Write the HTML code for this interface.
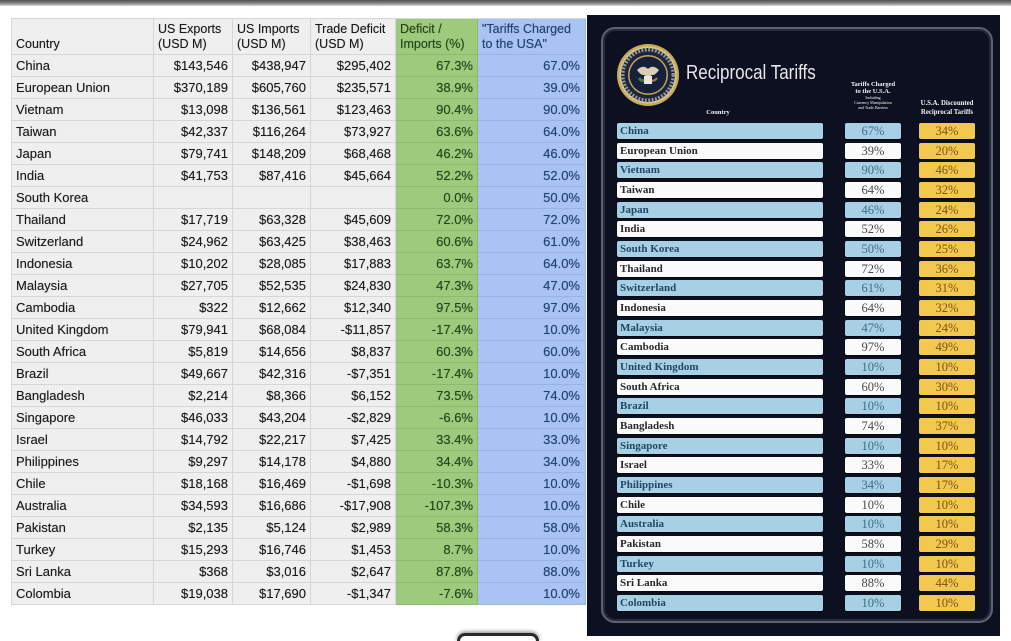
<!DOCTYPE html>
<html style="width:1011px;height:641px;overflow:hidden"><head><meta charset="utf-8"><style>
*{margin:0;padding:0;box-sizing:border-box}
body{width:1011px;height:641px;background:#fff;position:relative;overflow:hidden;font-family:"Liberation Sans",Arial,sans-serif}
.topbar{position:absolute;left:0;top:0;width:1011px;height:6px;background:linear-gradient(#4f4f4f,#8c8c8c 60%,#dcdcdc)}
.grid{position:absolute;left:11px;top:18px;display:grid;grid-template-columns:142px 79px 78px 85px 82px 108px;grid-template-rows:36px repeat(25,22px);border-top:1px solid #d8d8d8;border-left:1px solid #d8d8d8}
.grid div{background:#efefef;border-right:1px solid #d6d6d6;border-bottom:1px solid #d6d6d6;font-size:13px;color:#1a1a1a;display:flex;align-items:center;padding:0 4px;white-space:nowrap;overflow:hidden;text-shadow:0 0 0.6px rgba(0,0,0,.5)}
.grid div.r{justify-content:flex-end}
.grid div.g{background:#9ccb7e;color:#244814;justify-content:flex-end;border-color:#8cbb70}
.grid div.b{background:#a9c4f2;color:#22427a;justify-content:flex-end;border-color:#98b4e2;padding-right:5px}
.grid div.h{align-items:flex-end;font-size:12.5px;line-height:15px;padding-bottom:2px;justify-content:flex-start;white-space:normal}
.panel{position:absolute;left:587px;top:15px;width:413px;height:621px;background:#0d1020}
.inner{position:absolute;left:601px;top:27px;width:392px;height:596px;border:2px solid #5c6272;border-radius:14px;box-shadow:inset 0 0 0 2px #262b3a}
.title{position:absolute;left:686px;top:62px;font-size:20px;color:#e6e6ea;font-family:"Liberation Sans",sans-serif;transform:scaleX(0.85);transform-origin:left top;white-space:nowrap}
.hs{position:absolute;color:#f2f2f2;font-family:"Liberation Serif",serif;font-weight:bold;text-align:center;white-space:nowrap}
.row{position:absolute;height:16px;font-family:"Liberation Serif",serif;font-weight:bold;white-space:nowrap;border-radius:2px;box-shadow:0 1px 1px rgba(0,0,0,.6)}
.c{left:617px;width:206px;font-size:11px;line-height:16px;padding-left:3px}
.t{left:845px;width:56px;font-size:12.5px;line-height:16px;text-align:center;font-weight:normal}
.d{left:919px;width:56px;font-size:12.5px;line-height:16px;text-align:center;background:#f2c84f;color:#7b5316;font-weight:normal}
.bl{background:#a8d0e4;color:#1c4a66}
.wh{background:#fbfbfb;color:#2a2a2a}
.bl.t{color:#3b6e8a}
.wh.t{color:#4a4a4a}
.btn{position:absolute;left:457px;top:633px;width:82px;height:8px;border:3px solid #2a2a2a;border-bottom:none;border-radius:10px 10px 0 0;background:#fff;box-shadow:0 -1px 4px rgba(0,0,0,.5)}
</style></head><body>
<div class="topbar"></div>

<div class="grid">
<div class="h">Country</div><div class="h">US Exports (USD M)</div><div class="h">US Imports (USD M)</div><div class="h">Trade Deficit (USD M)</div><div class="h g" style="justify-content:flex-start;color:#244814">Deficit / Imports (%)</div><div class="h b" style="justify-content:flex-start;color:#22427a">"Tariffs Charged to the USA"</div>
<div>China</div><div class="r">$143,546</div><div class="r">$438,947</div><div class="r">$295,402</div><div class="g">67.3%</div><div class="b">67.0%</div>
<div>European Union</div><div class="r">$370,189</div><div class="r">$605,760</div><div class="r">$235,571</div><div class="g">38.9%</div><div class="b">39.0%</div>
<div>Vietnam</div><div class="r">$13,098</div><div class="r">$136,561</div><div class="r">$123,463</div><div class="g">90.4%</div><div class="b">90.0%</div>
<div>Taiwan</div><div class="r">$42,337</div><div class="r">$116,264</div><div class="r">$73,927</div><div class="g">63.6%</div><div class="b">64.0%</div>
<div>Japan</div><div class="r">$79,741</div><div class="r">$148,209</div><div class="r">$68,468</div><div class="g">46.2%</div><div class="b">46.0%</div>
<div>India</div><div class="r">$41,753</div><div class="r">$87,416</div><div class="r">$45,664</div><div class="g">52.2%</div><div class="b">52.0%</div>
<div>South Korea</div><div class="r"></div><div class="r"></div><div class="r"></div><div class="g">0.0%</div><div class="b">50.0%</div>
<div>Thailand</div><div class="r">$17,719</div><div class="r">$63,328</div><div class="r">$45,609</div><div class="g">72.0%</div><div class="b">72.0%</div>
<div>Switzerland</div><div class="r">$24,962</div><div class="r">$63,425</div><div class="r">$38,463</div><div class="g">60.6%</div><div class="b">61.0%</div>
<div>Indonesia</div><div class="r">$10,202</div><div class="r">$28,085</div><div class="r">$17,883</div><div class="g">63.7%</div><div class="b">64.0%</div>
<div>Malaysia</div><div class="r">$27,705</div><div class="r">$52,535</div><div class="r">$24,830</div><div class="g">47.3%</div><div class="b">47.0%</div>
<div>Cambodia</div><div class="r">$322</div><div class="r">$12,662</div><div class="r">$12,340</div><div class="g">97.5%</div><div class="b">97.0%</div>
<div>United Kingdom</div><div class="r">$79,941</div><div class="r">$68,084</div><div class="r">-$11,857</div><div class="g">-17.4%</div><div class="b">10.0%</div>
<div>South Africa</div><div class="r">$5,819</div><div class="r">$14,656</div><div class="r">$8,837</div><div class="g">60.3%</div><div class="b">60.0%</div>
<div>Brazil</div><div class="r">$49,667</div><div class="r">$42,316</div><div class="r">-$7,351</div><div class="g">-17.4%</div><div class="b">10.0%</div>
<div>Bangladesh</div><div class="r">$2,214</div><div class="r">$8,366</div><div class="r">$6,152</div><div class="g">73.5%</div><div class="b">74.0%</div>
<div>Singapore</div><div class="r">$46,033</div><div class="r">$43,204</div><div class="r">-$2,829</div><div class="g">-6.6%</div><div class="b">10.0%</div>
<div>Israel</div><div class="r">$14,792</div><div class="r">$22,217</div><div class="r">$7,425</div><div class="g">33.4%</div><div class="b">33.0%</div>
<div>Philippines</div><div class="r">$9,297</div><div class="r">$14,178</div><div class="r">$4,880</div><div class="g">34.4%</div><div class="b">34.0%</div>
<div>Chile</div><div class="r">$18,168</div><div class="r">$16,469</div><div class="r">-$1,698</div><div class="g">-10.3%</div><div class="b">10.0%</div>
<div>Australia</div><div class="r">$34,593</div><div class="r">$16,686</div><div class="r">-$17,908</div><div class="g">-107.3%</div><div class="b">10.0%</div>
<div>Pakistan</div><div class="r">$2,135</div><div class="r">$5,124</div><div class="r">$2,989</div><div class="g">58.3%</div><div class="b">58.0%</div>
<div>Turkey</div><div class="r">$15,293</div><div class="r">$16,746</div><div class="r">$1,453</div><div class="g">8.7%</div><div class="b">10.0%</div>
<div>Sri Lanka</div><div class="r">$368</div><div class="r">$3,016</div><div class="r">$2,647</div><div class="g">87.8%</div><div class="b">88.0%</div>
<div>Colombia</div><div class="r">$19,038</div><div class="r">$17,690</div><div class="r">-$1,347</div><div class="g">-7.6%</div><div class="b">10.0%</div>
</div>

<div class="panel"></div>
<div class="inner"></div>

<svg style="position:absolute;left:615px;top:42px" width="66" height="66" viewBox="0 0 66 66">
<circle cx="33" cy="33" r="31" fill="#c9aa55"/>
<circle cx="33" cy="33" r="28.5" fill="#e4d7a8"/>
<circle cx="33" cy="33" r="27" fill="#1b2440"/>
<circle cx="33" cy="33" r="26" fill="none" stroke="#b8b39a" stroke-width="5" stroke-dasharray="2 1.5" opacity=".8"/>
<circle cx="33" cy="33" r="20" fill="#c7a44e"/>
<circle cx="33" cy="33" r="18.5" fill="#17203b"/>
<path d="M22 28 Q28 22 33 27 Q38 22 44 28 Q40 34 36 33 L36 42 L30 42 L30 33 Q26 34 22 28Z" fill="#d8cfb0"/>
<path d="M24 36 Q27 40 30 38" stroke="#3d7a3a" stroke-width="3" fill="none"/>
<path d="M42 36 Q39 40 36 38" stroke="#b07a40" stroke-width="2" fill="none"/>
<rect x="29" y="34" width="8" height="8" fill="#e8e6e0"/>
</svg>

<div class="title">Reciprocal Tariffs</div>
<div class="hs" style="left:690px;top:109px;width:56px;font-size:6.5px">Country</div>
<div class="hs" style="left:840px;top:81px;width:66px;font-size:6.5px;line-height:7px">Tariffs Charged<br>to the U.S.A.</div>
<div class="hs" style="left:840px;top:95px;width:66px;font-size:4px;line-height:5px;font-weight:normal">Including<br>Currency Manipulation<br>and Trade Barriers</div>
<div class="hs" style="left:910px;top:100px;width:74px;font-size:6.8px;line-height:8.5px">U.S.A. Discounted<br>Reciprocal Tariffs</div>

<div class="row c bl" style="top:123px">China</div><div class="row t bl" style="top:123px">67%</div><div class="row d" style="top:123px">34%</div>
<div class="row c wh" style="top:143px">European Union</div><div class="row t wh" style="top:143px">39%</div><div class="row d" style="top:143px">20%</div>
<div class="row c bl" style="top:162px">Vietnam</div><div class="row t bl" style="top:162px">90%</div><div class="row d" style="top:162px">46%</div>
<div class="row c wh" style="top:182px">Taiwan</div><div class="row t wh" style="top:182px">64%</div><div class="row d" style="top:182px">32%</div>
<div class="row c bl" style="top:202px">Japan</div><div class="row t bl" style="top:202px">46%</div><div class="row d" style="top:202px">24%</div>
<div class="row c wh" style="top:221px">India</div><div class="row t wh" style="top:221px">52%</div><div class="row d" style="top:221px">26%</div>
<div class="row c bl" style="top:241px">South Korea</div><div class="row t bl" style="top:241px">50%</div><div class="row d" style="top:241px">25%</div>
<div class="row c wh" style="top:261px">Thailand</div><div class="row t wh" style="top:261px">72%</div><div class="row d" style="top:261px">36%</div>
<div class="row c bl" style="top:280px">Switzerland</div><div class="row t bl" style="top:280px">61%</div><div class="row d" style="top:280px">31%</div>
<div class="row c wh" style="top:300px">Indonesia</div><div class="row t wh" style="top:300px">64%</div><div class="row d" style="top:300px">32%</div>
<div class="row c bl" style="top:320px">Malaysia</div><div class="row t bl" style="top:320px">47%</div><div class="row d" style="top:320px">24%</div>
<div class="row c wh" style="top:339px">Cambodia</div><div class="row t wh" style="top:339px">97%</div><div class="row d" style="top:339px">49%</div>
<div class="row c bl" style="top:359px">United Kingdom</div><div class="row t bl" style="top:359px">10%</div><div class="row d" style="top:359px">10%</div>
<div class="row c wh" style="top:379px">South Africa</div><div class="row t wh" style="top:379px">60%</div><div class="row d" style="top:379px">30%</div>
<div class="row c bl" style="top:398px">Brazil</div><div class="row t bl" style="top:398px">10%</div><div class="row d" style="top:398px">10%</div>
<div class="row c wh" style="top:418px">Bangladesh</div><div class="row t wh" style="top:418px">74%</div><div class="row d" style="top:418px">37%</div>
<div class="row c bl" style="top:438px">Singapore</div><div class="row t bl" style="top:438px">10%</div><div class="row d" style="top:438px">10%</div>
<div class="row c wh" style="top:457px">Israel</div><div class="row t wh" style="top:457px">33%</div><div class="row d" style="top:457px">17%</div>
<div class="row c bl" style="top:477px">Philippines</div><div class="row t bl" style="top:477px">34%</div><div class="row d" style="top:477px">17%</div>
<div class="row c wh" style="top:497px">Chile</div><div class="row t wh" style="top:497px">10%</div><div class="row d" style="top:497px">10%</div>
<div class="row c bl" style="top:516px">Australia</div><div class="row t bl" style="top:516px">10%</div><div class="row d" style="top:516px">10%</div>
<div class="row c wh" style="top:536px">Pakistan</div><div class="row t wh" style="top:536px">58%</div><div class="row d" style="top:536px">29%</div>
<div class="row c bl" style="top:556px">Turkey</div><div class="row t bl" style="top:556px">10%</div><div class="row d" style="top:556px">10%</div>
<div class="row c wh" style="top:575px">Sri Lanka</div><div class="row t wh" style="top:575px">88%</div><div class="row d" style="top:575px">44%</div>
<div class="row c bl" style="top:595px">Colombia</div><div class="row t bl" style="top:595px">10%</div><div class="row d" style="top:595px">10%</div>

<div class="btn"></div>
</body></html>
